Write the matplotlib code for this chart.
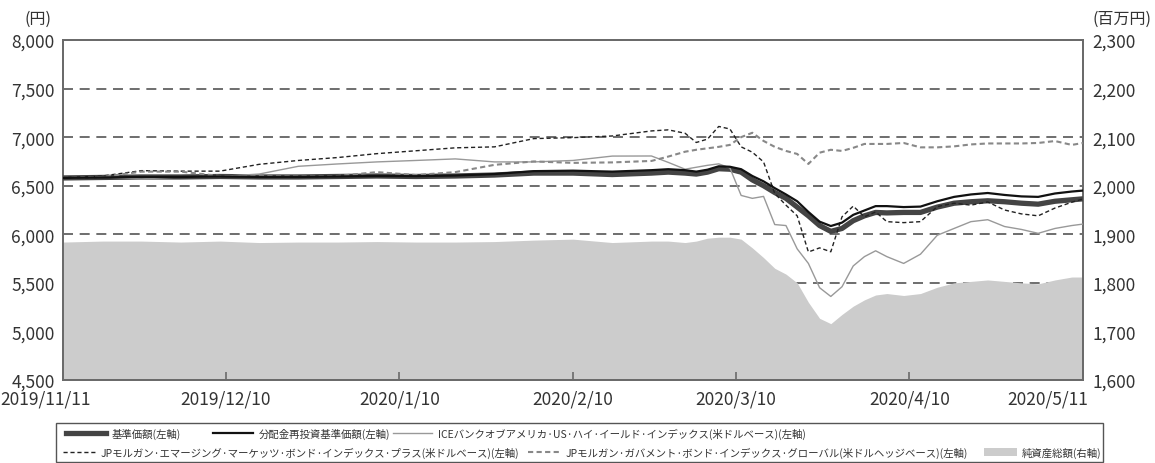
import matplotlib
matplotlib.use('Agg')
import matplotlib.pyplot as plt
import matplotlib.transforms as mtransforms
from matplotlib.lines import Line2D
from matplotlib.patches import Rectangle
import pandas as pd

plt.rcParams['font.family'] = ['Noto Sans CJK JP', 'DejaVu Sans']

# ---------------- data ----------------
dates = ['2019-11-11', '2019-11-18', '2019-11-25', '2019-12-02', '2019-12-09', '2019-12-16',
         '2019-12-23', '2019-12-30', '2020-01-06', '2020-01-13', '2020-01-20', '2020-01-27',
         '2020-02-03', '2020-02-10', '2020-02-17', '2020-02-24', '2020-02-27', '2020-03-01',
         '2020-03-03', '2020-03-05', '2020-03-07', '2020-03-09', '2020-03-11', '2020-03-13',
         '2020-03-15', '2020-03-17', '2020-03-19', '2020-03-21', '2020-03-23', '2020-03-25',
         '2020-03-27', '2020-03-29', '2020-03-31', '2020-04-02', '2020-04-04', '2020-04-06',
         '2020-04-09', '2020-04-12', '2020-04-15', '2020-04-18', '2020-04-21', '2020-04-24',
         '2020-04-27', '2020-04-30', '2020-05-03', '2020-05-06', '2020-05-09', '2020-05-11']

nav = [6580, 6585, 6590, 6590, 6595, 6590, 6590, 6595, 6600, 6595, 6600, 6610,
       6630, 6630, 6615, 6630, 6640, 6630, 6620, 6640, 6675, 6670, 6640, 6560,
       6500, 6430, 6370, 6280, 6190, 6090, 6030, 6060, 6140, 6190, 6225, 6220,
       6225, 6225, 6280, 6320, 6335, 6345, 6335, 6320, 6310, 6340, 6355, 6365]

nav_reinvested = [6580, 6585, 6590, 6590, 6595, 6590, 6590, 6595, 6600, 6598, 6605, 6620,
                  6650, 6655, 6645, 6660, 6670, 6660, 6645, 6665, 6700, 6695, 6670, 6600,
                  6545, 6475, 6410, 6340, 6230, 6130, 6085, 6120, 6200, 6245, 6290, 6290,
                  6280, 6285, 6340, 6385, 6410, 6425, 6405, 6390, 6385, 6420, 6440, 6450]

ice_hy = [6580, 6590, 6570, 6590, 6595, 6620, 6700, 6724, 6745, 6760, 6776, 6745,
          6745, 6760, 6805, 6806, 6740, 6670, 6690, 6710, 6725, 6683, 6400, 6370,
          6390, 6100, 6090, 5850, 5700, 5450, 5360, 5460, 5674, 5770, 5830, 5770,
          5700, 5795, 5990, 6060, 6130, 6150, 6080, 6050, 6010, 6060, 6090, 6105]

jpm_embi_plus = [6580, 6600, 6655, 6650, 6650, 6720, 6760, 6790, 6830, 6860, 6890, 6900,
                 6985, 6995, 7012, 7064, 7075, 7040, 6945, 6980, 7110, 7084, 6900, 6845,
                 6745, 6420, 6300, 6190, 5818, 5860, 5820, 6180, 6290, 6180, 6230, 6130,
                 6120, 6130, 6285, 6320, 6300, 6333, 6250, 6210, 6190, 6270, 6330, 6364]

jpm_gbi_global = [6580, 6590, 6645, 6645, 6600, 6600, 6595, 6600, 6640, 6610, 6640, 6715,
                  6750, 6735, 6740, 6755, 6800, 6850, 6870, 6885, 6900, 6920, 7000, 7045,
                  6961, 6900, 6858, 6827, 6724, 6840, 6870, 6858, 6890, 6930, 6930, 6930,
                  6940, 6895, 6895, 6905, 6925, 6935, 6935, 6935, 6940, 6960, 6920, 6940]

net_assets = [1884, 1886, 1886, 1884, 1886, 1883, 1884, 1884, 1885, 1884, 1884, 1885,
              1888, 1890, 1883, 1886, 1886, 1883, 1886, 1892, 1894, 1894, 1890, 1872,
              1852, 1830, 1818, 1800, 1760, 1727, 1716, 1735, 1752, 1765, 1775, 1778,
              1774, 1778, 1791, 1800, 1803, 1806, 1803, 1800, 1798, 1806, 1812, 1812]

xtick_dates = ['2019-11-11', '2019-12-10', '2020-01-10', '2020-02-10',
               '2020-03-10', '2020-04-10', '2020-05-11']
xtick_labels = ['2019/11/11', '2019/12/10', '2020/1/10', '2020/2/10',
                '2020/3/10', '2020/4/10', '2020/5/11']
left_ticks = [4500, 5000, 5500, 6000, 6500, 7000, 7500, 8000]
right_ticks = [1600, 1700, 1800, 1900, 2000, 2100, 2200, 2300]

legend_labels = ['基準価額(左軸)', '分配金再投資基準価額(左軸)',
                 'ICEバンクオブアメリカ·US·ハイ·イールド·インデックス(米ドルベース)(左軸)',
                 'JPモルガン·エマージング·マーケッツ·ボンド·インデックス·プラス(米ドルベース)(左軸)',
                 'JPモルガン·ガバメント·ボンド·インデックス·グローバル(米ドルヘッジベース)(左軸)',
                 '純資産総額(右軸)']

# ---------------- figure ----------------
W, H = 1155, 464
fig = plt.figure(figsize=(W / 100, H / 100), dpi=100)


def fx(px):
    return px / W


def fy(py):
    return 1 - py / H


x = pd.to_datetime(dates)

ax = fig.add_axes([fx(63), fy(381), fx(1083) - fx(63), fy(41) - fy(381)])
ax2 = ax.twinx()
# draw the area (right axis) behind the lines
ax2.set_zorder(1)
ax.set_zorder(2)
ax.patch.set_visible(False)

spine_col = '#6a6a6a'
text_col = '#333333'

ax2.fill_between(x, 1600, net_assets, color='#cccccc', lw=0, zorder=2)
ax2.set_axisbelow(True)
ax2.yaxis.grid(True, color='#555555', lw=1.2, linestyle=(0, (6, 4)))
ax2.set_ylim(1600, 2300)
ax2.set_yticks(right_ticks)
ax2.set_yticklabels([f'{v:,}' for v in right_ticks])

ax.plot(x, nav, color='#444444', lw=3.8, solid_capstyle='butt', zorder=3)
ax.plot(x, nav_reinvested, color='#111111', lw=1.6, zorder=4)
ax.plot(x, ice_hy, color='#999999', lw=1.0, zorder=3)
ax.plot(x, jpm_embi_plus, color='#222222', lw=1.0, linestyle=(0, (3, 2)), zorder=3)
ax.plot(x, jpm_gbi_global, color='#888888', lw=1.5, linestyle=(0, (2.5, 1.6)), zorder=3)

ax.set_ylim(4500, 8000)
ax.set_yticks(left_ticks)
ax.set_yticklabels([f'{v:,}' for v in left_ticks])
ax.set_xlim(x[0], x[-1])
ax.set_xticks(pd.to_datetime(xtick_dates))
ax.set_xticklabels(xtick_labels)

for a in (ax, ax2):
    for s in a.spines.values():
        s.set_color(spine_col)
        s.set_linewidth(1.3)
ax.tick_params(axis='y', length=0, pad=6, labelsize=12.5, labelcolor=text_col)
ax2.tick_params(axis='y', length=0, pad=7, labelsize=12.5, labelcolor=text_col)
ax.tick_params(axis='x', direction='in', length=6, width=1.2, color=spine_col,
               pad=7, labelsize=12.5, labelcolor=text_col)

# shift end labels inward like the reference
tl = ax.get_xticklabels()
tl[0].set_transform(tl[0].get_transform() + mtransforms.ScaledTranslation(-17 / 100, 0, fig.dpi_scale_trans))
tl[-1].set_transform(tl[-1].get_transform() + mtransforms.ScaledTranslation(-35 / 100, 0, fig.dpi_scale_trans))

fig.text(fx(38), fy(19), '(円)', ha='center', va='center', fontsize=11.5, color=text_col)
fig.text(fx(1122), fy(19), '(百万円)', ha='center', va='center', fontsize=11.5, color=text_col)

# ---------------- legend ----------------
fig.add_artist(Rectangle((fx(56), fy(463)), fx(1103) - fx(56), fy(424) - fy(463),
                         transform=fig.transFigure, fill=False, ec='#555555', lw=1.0))
ly1, ly2 = 434, 453
lfs = 7.5
styles = [
    dict(color='#444444', lw=3.8),
    dict(color='#111111', lw=1.6),
    dict(color='#999999', lw=1.0),
    dict(color='#222222', lw=1.0, linestyle=(0, (3, 2))),
    dict(color='#888888', lw=1.5, linestyle=(0, (2.5, 1.6))),
]
entries = [(66, 106, ly1), (213, 253, ly1), (393, 432, ly1), (63, 95, ly2), (528, 560, ly2)]
for (x0, x1, yy), st, lab in zip(entries, styles, legend_labels[:5]):
    fig.add_artist(Line2D([fx(x0), fx(x1)], [fy(yy), fy(yy)], transform=fig.transFigure, **st))
    fig.text(fx(x1 + 6), fy(yy), lab, ha='left', va='center', fontsize=lfs, color=text_col)
fig.add_artist(Rectangle((fx(984), fy(457)), fx(1017) - fx(984), fy(449) - fy(457),
                         transform=fig.transFigure, color='#cccccc', lw=0))
fig.text(fx(1022), fy(ly2), legend_labels[5], ha='left', va='center', fontsize=lfs, color=text_col)

fig.savefig('out.png', dpi=100)
